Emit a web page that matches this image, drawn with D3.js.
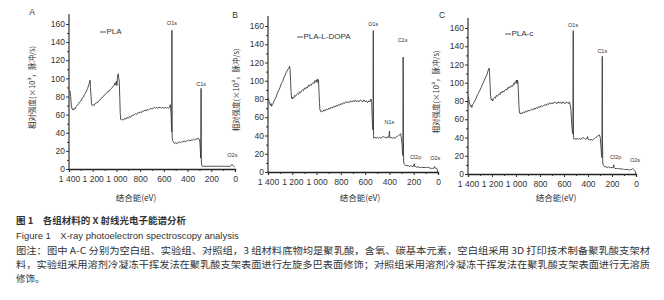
<!DOCTYPE html>
<html>
<head>
<meta charset="utf-8">
<script src="https://cdn.jsdelivr.net/npm/d3@7"></script>
<style>
  body { margin: 0; background: #fff; }
  text { font-family: "Liberation Sans", "Noto Sans CJK SC", sans-serif; fill: #333; }
  .cjk { font-family: "Noto Sans CJK SC", sans-serif; }
</style>
</head>
<body>
<div id="chart"></div>
<script>
// binding energy (eV), relative intensity (x10^3 counts/s)
const pla = [
  [1395,87],[1390,85],[1386,80],[1380,70],[1374,66],[1366,65],[1358,67],[1350,66],[1340,69],[1330,70],
  [1320,72],[1310,74],[1300,75],[1290,78],[1280,79],[1270,82],[1260,84],[1250,87],[1242,89],[1236,92],
  [1230,94],[1226,97],[1222,98],[1219,90],[1214,80],[1210,72],[1204,70],[1196,71],[1188,70],[1180,72],
  [1170,73],[1160,73],[1150,75],[1140,76],[1130,78],[1120,79],[1110,80],[1100,82],[1090,83],[1080,84],
  [1070,86],[1060,86],[1050,88],[1040,89],[1030,91],[1020,92],[1012,95],[1006,93],[1000,97],[996,92],
  [992,100],[988,104],[984,105],[980,100],[976,96],[972,80],[968,62],[964,55],[958,54],[950,55],
  [940,54],[930,56],[920,55],[910,57],[900,56],[890,58],[880,57],[870,59],[860,59],[850,60],
  [840,61],[830,60],[820,62],[810,62],[800,63],[790,62],[780,64],[770,64],[760,65],[750,64],
  [740,66],[730,65],[720,66],[710,67],[700,66],[690,67],[680,68],[670,67],[660,68],[650,67],
  [640,68],[630,68],[620,67],[610,68],[600,67],[590,68],[580,67],[570,68],[560,67],[552,68],
  [546,71],[542,66],[538,58],[535,45],[533,41],[532,153],[531,42],[529,34],[526,31],[520,30],
  [510,28],[500,29],[490,28],[480,29],[470,30],[460,29],[450,30],[440,30],[430,31],[420,30],
  [410,31],[400,31],[390,32],[380,31],[370,32],[360,32],[350,33],[340,32],[330,33],[320,33],
  [310,34],[302,33],[296,30],[292,20],[289,12],[287,89],[285,88],[284,10],[281,4],[276,3],
  [260,3],[240,3],[220,3],[200,3],[180,3],[160,3],[140,3],[120,3],[100,3],[80,3],
  [60,3],[40,3],[30,4],[25,5],[20,4],[10,3],[4,2]
];
const plaDopa = [
  [1398,81],[1394,79],[1390,77],[1385,75],[1380,73],[1375,75],[1370,72],[1364,74],[1358,75],[1350,78],
  [1342,80],[1334,82],[1326,85],[1318,88],[1310,90],[1300,93],[1290,97],[1280,99],[1270,103],[1260,106],
  [1250,109],[1242,111],[1234,113],[1228,114],[1222,116],[1218,112],[1214,100],[1210,88],[1206,81],[1200,80],
  [1194,82],[1188,81],[1180,84],[1172,83],[1164,85],[1156,86],[1148,85],[1140,88],[1132,87],[1124,89],
  [1116,90],[1108,89],[1100,92],[1092,91],[1084,93],[1076,92],[1068,95],[1060,94],[1052,96],[1044,95],
  [1036,97],[1028,98],[1020,97],[1014,100],[1008,99],[1002,101],[996,98],[992,102],[988,100],[984,101],
  [980,88],[976,75],[972,68],[966,66],[958,67],[950,66],[940,68],[930,67],[920,69],[910,68],
  [900,70],[890,69],[880,71],[870,70],[860,72],[850,71],[840,73],[830,72],[820,74],[810,73],
  [800,75],[790,74],[780,76],[770,75],[760,77],[750,76],[740,77],[730,76],[720,78],[710,77],
  [700,78],[690,77],[680,79],[670,77],[660,78],[650,77],[640,79],[630,78],[620,77],[610,79],
  [600,77],[590,78],[580,76],[570,78],[560,77],[552,80],[546,76],[542,60],[538,48],[535,46],
  [533,155],[531,40],[528,37],[520,38],[510,37],[500,38],[490,37],[480,38],[470,37],[460,38],
  [450,39],[440,38],[430,38],[420,37],[410,39],[404,38],[400,45],[397,39],[392,37],[385,38],
  [375,37],[365,38],[355,37],[345,38],[335,39],[325,40],[315,41],[308,42],[302,38],[296,30],
  [292,20],[289,18],[287,126],[285,40],[283,12],[280,9],[275,8],[265,7],[255,7],[245,7],
  [235,6],[225,7],[215,6],[205,6],[195,9],[192,6],[185,6],[175,5],[165,6],[155,5],
  [145,5],[135,5],[125,5],[115,5],[105,5],[95,5],[85,5],[75,5],[65,4],[55,4],
  [45,4],[35,4],[28,6],[22,4],[12,4],[6,3],[2,0]
];
const plaC = [
  [1397,85],[1393,82],[1388,78],[1383,76],[1378,74],[1372,75],[1368,73],[1362,76],[1355,77],[1348,79],
  [1340,81],[1332,83],[1324,86],[1316,88],[1308,90],[1300,92],[1290,95],[1280,98],[1270,101],[1260,104],
  [1250,107],[1242,109],[1236,112],[1230,114],[1224,116],[1220,110],[1216,98],[1212,86],[1206,81],[1200,82],
  [1194,80],[1188,83],[1180,84],[1172,83],[1164,86],[1156,85],[1148,87],[1140,88],[1132,87],[1124,90],
  [1116,89],[1108,91],[1100,90],[1092,92],[1084,93],[1076,92],[1068,95],[1060,94],[1052,96],[1044,95],
  [1036,97],[1028,96],[1020,99],[1014,98],[1008,101],[1002,100],[996,103],[992,99],[988,103],[984,101],
  [980,90],[976,76],[972,68],[966,66],[958,67],[950,66],[940,68],[930,67],[920,69],[910,68],
  [900,70],[890,69],[880,70],[870,71],[860,70],[850,72],[840,71],[830,73],[820,72],[810,74],
  [800,73],[790,75],[780,74],[770,75],[760,76],[750,75],[740,77],[730,76],[720,78],[710,77],
  [700,78],[690,77],[680,79],[670,78],[660,77],[650,79],[640,78],[630,79],[620,77],[610,79],
  [600,78],[590,77],[580,79],[570,78],[562,77],[555,79],[548,76],[542,70],[536,55],[530,46],
  [526,44],[523,157],[521,40],[517,38],[510,39],[500,38],[490,39],[480,38],[470,39],[460,38],
  [450,39],[440,40],[430,39],[420,38],[410,39],[404,41],[400,38],[392,38],[385,37],[375,38],
  [365,37],[355,38],[345,39],[335,40],[325,41],[315,42],[305,43],[298,40],[292,30],[287,20],
  [284,18],[281,129],[279,35],[277,12],[274,10],[268,9],[260,8],[250,8],[240,7],[230,8],
  [220,7],[210,7],[200,7],[190,7],[185,10],[182,7],[175,6],[165,6],[155,6],[145,6],
  [135,6],[125,5],[115,6],[105,5],[95,5],[85,5],[75,5],[65,5],[55,4],[45,5],
  [35,5],[28,6],[20,5],[12,4],[6,3],[1,0]
];

// peak labels: name, binding energy, intensity where the label sits
const peaksA = [["O1s",532,161],["C1s",286,93],["O2s",22,15]];
const peaksB = [["O1s",533,162],["C1s",292,144],["N1s",400,54],["Cl2p",185,16],["O2s",22,15]];
const peaksC = [["O1s",524,163],["C1s",281,134],["Cl2p",170,18],["O2s",8,15]];

const panelIds = ["A", "B", "C"];
const seriesNames = ["PLA", "PLA-L-DOPA", "PLA-c"];
const xTickValues = [1400, 1200, 1000, 800, 600, 400, 200, 0];
const xTickLabels = ["1 400", "1 200", "1 000", "800", "600", "400", "200", "0"];
const yTickValues = [0, 20, 40, 60, 80, 100, 120, 140, 160];

const xTitle = "结合能(eV)";
const yTitle = "相对强度(×10³，脉冲/s)";
const captionCn = "图 1　各组材料的 X 射线光电子能谱分析";
const captionEn = "Figure 1　X-ray photoelectron spectroscopy analysis";
const noteLines = [
  "图注：图中 A-C 分别为空白组、实验组、对照组，3 组材料底物均是聚乳酸，含氧、碳基本元素，空白组采用 3D 打印技术制备聚乳酸支架材",
  "料，实验组采用溶剂冷凝冻干挥发法在聚乳酸支架表面进行左旋多巴表面修饰；对照组采用溶剂冷凝冻干挥发法在聚乳酸支架表面进行无溶质",
  "修饰。"
];

const width = 664, height = 300;

// pixel frames of the three panels in the scanned figure
const frames = [
  { x0: 69, x1: 235, yb: 169, yt: 24, letter: [32, 13], legend: [100, 32], yl: 33, xl: 136 },
  { x0: 268, x1: 438, yb: 172, yt: 26, letter: [235, 16], legend: [297, 37], yl: 237, xl: 360 },
  { x0: 468, x1: 636, yb: 174, yt: 28, letter: [442, 16], legend: [505, 34], yl: 437, xl: 556 }
];
const allData = [pla, plaDopa, plaC];
const allPeaks = [peaksA, peaksB, peaksC];

const svg = d3.select("#chart").append("svg")
  .attr("width", width)
  .attr("height", height)
  .style("display", "block");

svg.append("rect").attr("width", width).attr("height", height).attr("fill", "#fff");

frames.forEach((f, i) => {
  const x = d3.scaleLinear().domain([1400, 0]).range([f.x0, f.x1]);
  const y = d3.scaleLinear().domain([0, 160]).range([f.yb, f.yt]);
  const g = svg.append("g");

  // y axis with minor ticks
  const yAxis = g.append("g")
    .attr("transform", `translate(${f.x0},0)`)
    .call(d3.axisLeft(y).tickValues(yTickValues).tickSize(3).tickFormat(d3.format("d")));
  yAxis.select(".domain").remove();
  g.append("g")
    .attr("transform", `translate(${f.x0},0)`)
    .call(d3.axisLeft(y).tickValues(d3.range(10, 170, 20)).tickSize(2).tickFormat(""))
    .select(".domain").remove();
  g.append("line")
    .attr("x1", f.x0).attr("x2", f.x0)
    .attr("y1", y(0)).attr("y2", y(171))
    .attr("stroke", "#222").attr("stroke-width", 1.1);

  // x axis
  const xAxis = g.append("g")
    .attr("transform", `translate(0,${f.yb})`)
    .call(d3.axisBottom(x).tickValues(xTickValues).tickSize(3)
      .tickFormat((d, k) => xTickLabels[k]));
  xAxis.select(".domain").attr("stroke", "#222").attr("stroke-width", 1.3);
  g.append("g")
    .attr("transform", `translate(0,${f.yb})`)
    .call(d3.axisBottom(x).tickValues(d3.range(1300, 0, -200)).tickSize(2).tickFormat(""))
    .select(".domain").remove();

  g.selectAll(".tick line").attr("stroke", "#333");
  g.selectAll(".tick text")
    .attr("font-family", "Liberation Sans, sans-serif")
    .attr("font-size", 8.5)
    .attr("fill", "#444");
  yAxis.selectAll(".tick text").attr("x", -4);
  xAxis.selectAll(".tick text").attr("y", 7);

  // spectrum
  const line = d3.line().x(d => x(d[0])).y(d => y(d[1]));
  g.append("path")
    .datum(allData[i])
    .attr("fill", "none")
    .attr("stroke", "#3a3a3a")
    .attr("stroke-width", 0.9)
    .attr("stroke-linejoin", "round")
    .attr("d", line);

  // peak labels
  g.selectAll(".peak")
    .data(allPeaks[i])
    .join("text")
    .attr("class", "peak")
    .attr("x", d => x(d[1]))
    .attr("y", d => y(d[2]))
    .attr("text-anchor", "middle")
    .attr("dominant-baseline", "middle")
    .attr("font-size", 5.5)
    .attr("fill", "#555")
    .text(d => d[0]);

  // legend
  g.append("line")
    .attr("x1", f.legend[0]).attr("x2", f.legend[0] + 6)
    .attr("y1", f.legend[1]).attr("y2", f.legend[1])
    .attr("stroke", "#555").attr("stroke-width", 1);
  g.append("text")
    .attr("x", f.legend[0] + 6.5)
    .attr("y", f.legend[1])
    .attr("dominant-baseline", "middle")
    .attr("font-size", 8)
    .attr("fill", "#555")
    .text(seriesNames[i]);

  // panel letter
  g.append("text")
    .attr("x", f.letter[0]).attr("y", f.letter[1])
    .attr("text-anchor", "middle")
    .attr("dominant-baseline", "middle")
    .attr("font-size", 8.5)
    .text(panelIds[i]);

  // axis titles
  g.append("text")
    .attr("class", "cjk")
    .attr("transform", `translate(${f.yl},${(f.yb + f.yt) / 2 - 9}) rotate(-90)`)
    .attr("text-anchor", "middle")
    .attr("dominant-baseline", "middle")
    .attr("font-size", 7.5)
    .attr("fill", "#444")
    .text(yTitle);
  g.append("text")
    .attr("class", "cjk")
    .attr("x", f.xl).attr("y", 199)
    .attr("text-anchor", "middle")
    .attr("dominant-baseline", "middle")
    .attr("font-size", 8.5)
    .attr("fill", "#444")
    .text(xTitle);
});

// caption
svg.append("text")
  .attr("class", "cjk")
  .attr("x", 16).attr("y", 221)
  .attr("dominant-baseline", "middle")
  .attr("font-size", 9.5)
  .attr("font-weight", "bold")
  .attr("fill", "#222")
  .text(captionCn);
svg.append("text")
  .attr("x", 16).attr("y", 236)
  .attr("dominant-baseline", "middle")
  .attr("font-size", 9.5)
  .attr("fill", "#333")
  .text(captionEn);
svg.selectAll(".note")
  .data(noteLines)
  .join("text")
  .attr("class", "note cjk")
  .attr("x", 16)
  .attr("y", (d, k) => 251 + k * 14)
  .attr("dominant-baseline", "middle")
  .attr("font-size", 9.5)
  .attr("fill", "#333")
  .attr("textLength", (d, k) => k < 2 ? 634 : null)
  .attr("lengthAdjust", "spacingAndGlyphs")
  .text(d => d);
</script>
</body>
</html>
